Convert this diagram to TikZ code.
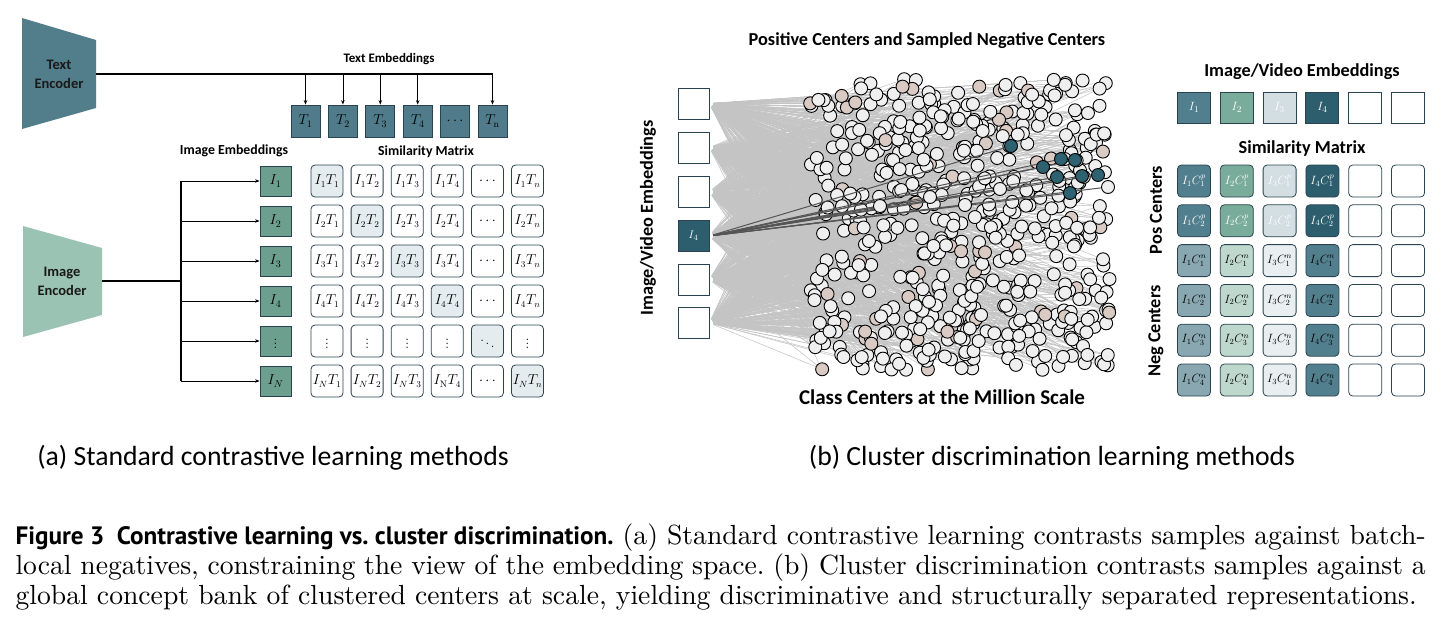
\documentclass[tikz,border=0pt]{standalone}
\usepackage{fontspec}
\usepackage{xcolor}
\usepackage{tikz}
\usetikzlibrary{arrows.meta, positioning, calc}

\newfontfamily\carlito{Carlito}
\newfontfamily\ptsans{PT Sans}

\definecolor{encteal}{HTML}{527E8C}
\definecolor{encgreen}{HTML}{9AC3B4}
\definecolor{tboxfill}{HTML}{4F7B8A}
\definecolor{iboxfill}{HTML}{6C9F8E}
\definecolor{edgeblue}{HTML}{2A4350}
\definecolor{diagfill}{HTML}{E4ECEF}
\definecolor{posA}{HTML}{527F8E}
\definecolor{posB}{HTML}{7AAC9B}
\definecolor{posC}{HTML}{D2DEE2}
\definecolor{posD}{HTML}{2D5E6D}
\definecolor{negA}{HTML}{88A7B1}
\definecolor{negB}{HTML}{BFD8CD}
\definecolor{negC}{HTML}{E9EFF1}
\definecolor{negD}{HTML}{527F8D}
\definecolor{ctrfill}{HTML}{EFEFEF}
\definecolor{ctrbeige}{HTML}{D9CAC3}
\definecolor{posdot}{HTML}{2E6271}
\definecolor{linegrey}{HTML}{C4C4C4}
\definecolor{linedark}{HTML}{555555}

\pgfdeclarelayer{wires}
\pgfdeclarelayer{hits}
\pgfsetlayers{wires,main,hits}

\begin{document}
\begin{tikzpicture}[
  x=1pt, y=-1pt,
  lbl/.style={font=\carlito\bfseries\fontsize{13.8}{16}\selectfont, inner sep=0pt},
  biglbl/.style={font=\carlito\bfseries\fontsize{18.3}{21}\selectfont, inner sep=0pt},
  enclbl/.style={font=\carlito\bfseries\fontsize{14.5}{19}\selectfont, align=center, text=black!90},
  subcap/.style={font=\carlito\fontsize{27.7}{32}\selectfont, inner sep=0pt},
  emb/.style={rectangle, draw=edgeblue, line width=0.8pt, minimum width=29pt,
              minimum height=32pt, inner sep=0pt, font=\fontsize{14}{16}\selectfont},
  midbox/.style={rectangle, draw=edgeblue, line width=0.9pt, fill=white,
                 minimum width=31pt, minimum height=31pt, inner sep=0pt},
  midhot/.style={midbox, fill=posD, text=white, font=\fontsize{11}{13}\selectfont},
  cell/.style={rectangle, rounded corners=4pt, draw=edgeblue, line width=0.8pt, fill=white,
               minimum width=32pt, minimum height=32pt, inner sep=0pt, font=\fontsize{13.5}{16}\selectfont},
  vbox/.style={rectangle, draw=edgeblue, line width=0.9pt, minimum width=33pt,
               minimum height=31pt, inner sep=0pt, text=white, font=\fontsize{13}{15}\selectfont},
  rcell/.style={cell, minimum width=33pt, font=\fontsize{12}{14}\selectfont},
  ctr/.style={circle, draw=black, line width=0.9pt, fill=ctrfill, minimum size=13pt, inner sep=0pt},
  gline/.style={draw=linegrey, line width=0.55pt, shorten <=4pt},
  dline/.style={draw=linedark, line width=1pt, shorten <=4pt},
  arr/.style={-{Stealth[length=4.5pt, width=3.5pt]}, line width=0.7pt},
  >=Stealth
]
\useasboundingbox (0,0) rectangle (1449,630);

% ── (a) text branch ──
\fill[encteal] (22,18) -- (96,40) -- (96,108) -- (22,129) -- cycle;
\node[enclbl] (txtenc) at (59,74) {Text\\Encoder};
\coordinate (txtout) at (96,74);

\node[lbl, font=\carlito\bfseries\fontsize{13}{15}\selectfont] (tlbl) at (389,59) {Text Embeddings};
\foreach \lab [count=\k] in {T_1,T_2,T_3,T_4,\cdots,T_{\mathrm{n}}}
  \node[emb, fill=tboxfill] (t\k) at ({305.5+37.4*(\k-1)},121) {$\lab$};

\draw[line width=1.6pt] (txtout) -- (t6.north |- txtout);
\foreach \k in {1,2,3,4,6}
  \draw[arr] (t\k.north |- txtout) -- (t\k.north);

% ── (a) image branch ──
\fill[encgreen] (23,226) -- (102,248) -- (102,315) -- (23,337) -- cycle;
\node[enclbl] (imgenc) at (62,281) {Image\\Encoder};
\coordinate (imgout) at (102,281);
\coordinate (bus) at (181,281);

\node[lbl] (ilbl) at (234,151) {Image Embeddings};
\foreach \lab [count=\k] in {I_1,I_2,I_3,I_4,\vdots,I_N}
  \node[emb, fill=iboxfill, minimum width=31pt, minimum height=30pt] (i\k) at (275.5,{181+40*(\k-1)}) {$\lab$};

\draw[line width=1.2pt] (imgout) -- (bus);
\draw[line width=1.2pt] (bus |- i1) -- (bus |- i6);
\foreach \k in {1,...,6}
  \draw[arr] (bus |- i\k) -- (i\k.west);

% ── (a) similarity matrix ──
\node[lbl] (slbl) at (426,152) {Similarity Matrix};
\foreach \cells [count=\rw] in {
    {I_1T_1,I_1T_2,I_1T_3,I_1T_4,\cdots,I_1T_n},
    {I_2T_1,I_2T_2,I_2T_3,I_2T_4,\cdots,I_2T_n},
    {I_3T_1,I_3T_2,I_3T_3,I_3T_4,\cdots,I_3T_n},
    {I_4T_1,I_4T_2,I_4T_3,I_4T_4,\cdots,I_4T_n},
    {\vdots,\vdots,\vdots,\vdots,\ddots,\vdots},
    {I_NT_1,I_NT_2,I_NT_3,I_{\mathrm{N}}T_4,\cdots,I_NT_n}}
  \foreach \lab [count=\cl] in \cells {
    \pgfmathsetmacro{\mix}{\rw==\cl ? 100 : 0}
    \node[cell, fill=diagfill!\mix!white] (s\rw\cl) at ({327+40.1*(\cl-1)},{181+40*(\rw-1)}) {$\lab$};
  }

% ── (b) embeddings and class centers ──
\node[biglbl] (toplbl) at (927,41) {Positive Centers and Sampled Negative Centers};
\node[biglbl, rotate=90] (emblbl) at (648,218) {Image/Video Embeddings};
\foreach \y/\sty [count=\k] in {103.5/midbox,147.5/midbox,192/midbox,236/midhot,279.5/midbox,323/midbox}
  \node[\sty] (e\k) at (693.5,\y) {\ifnum\k=4 $I_4$\fi};

\pgfmathsetseed{2024}
\foreach \k in {1,...,570}{
  \pgfmathsetmacro{\px}{810+300*rnd}
  \pgfmathsetmacro{\py}{78+292*rnd}
  \pgfmathsetmacro{\tint}{rnd<0.1 ? 100 : 0}
  \node[ctr, fill=ctrbeige!\tint!ctrfill] (c\k) at (\px,\py) {};
}

% every center is wired to three embeddings
\begin{pgfonlayer}{wires}
\foreach \k in {1,...,570}{
  \pgfmathtruncatemacro{\sa}{1+mod(\k,6)}
  \pgfmathtruncatemacro{\sb}{1+int(6*rnd)}
  \pgfmathtruncatemacro{\sc}{1+int(6*rnd)}
  \draw[gline] (e\sa.east) -- (c\k.center);
  \draw[gline] (e\sb.east) -- (c\k.center);
  \draw[gline] (e\sc.east) -- (c\k.center);
}
\end{pgfonlayer}

% positive centers of I4
\begin{pgfonlayer}{hits}
\foreach \x/\y [count=\k] in {1011/146,1043/167,1061/159,1075/160,1057/177,1082/176,1098/175,1070/193}
  \node[ctr, fill=posdot] (p\k) at (\x,\y) {};
\foreach \x/\y [count=\k] in {1108/187,965/205,930/197,1000/189,880/206}
  \node[ctr] (q\k) at (\x,\y) {};
\end{pgfonlayer}
\foreach \k in {1,...,8}
  \draw[dline] (e4.east) -- (p\k.center);
\foreach \k in {1,...,5}
  \draw[dline] (e4.east) -- (q\k.center);

\node[biglbl, font=\carlito\bfseries\fontsize{21}{24}\selectfont] (cclbl) at (942,397) {Class Centers at the Million Scale};

% ── (b) similarity matrix ──
\node[biglbl] (vlbl) at (1302,72) {Image/Video Embeddings};
\foreach \f/\lab [count=\k] in {posA/I_1,posB/I_2,posC/I_3,posD/I_4,white/{},white/{}}
  \node[vbox, fill=\f] (v\k) at ({1194+42.8*(\k-1)},107.5) {$\lab$};

\node[biglbl] (rslbl) at (1302,149) {Similarity Matrix};
\foreach \rw in {1,2}
  \foreach \f [count=\cl] in {posA,posB,posC,posD}
    \node[rcell, fill=\f, text=white] (m\rw\cl) at ({1194+42.8*(\cl-1)},{181+39.8*(\rw-1)}) {$I_{\cl}C_{\rw}^{p}$};
\foreach \rw in {3,...,6}{
  \pgfmathtruncatemacro{\j}{\rw-2}
  \foreach \f [count=\cl] in {negA,negB,negC,negD}
    \node[rcell, fill=\f] (m\rw\cl) at ({1194+42.8*(\cl-1)},{181+39.8*(\rw-1)}) {$I_{\cl}C_{\j}^{n}$};
}
\foreach \rw in {1,...,6}
  \foreach \cl in {5,6}
    \node[rcell] (m\rw\cl) at ({1194+42.8*(\cl-1)},{181+39.8*(\rw-1)}) {};

\node[biglbl, rotate=90] (poslbl) at (1156,210) {Pos Centers};
\node[biglbl, rotate=90] (neglbl) at (1156,331) {Neg Centers};

% ── captions ──
\node[subcap] (capa) at (273,458) {(a) Standard contrastive learning methods};
\node[subcap] (capb) at (1052,458) {(b) Cluster discrimination learning methods};

\node[anchor=base west, inner sep=0pt, scale=2.765] (figcap) at (15,544) {\parbox[t]{510pt}{\fontsize{10}{11}\selectfont\frenchspacing
  {\ptsans\bfseries\fontsize{9.1}{11}\selectfont Figure 3\enspace Contrastive learning vs.\ cluster discrimination.}\ (a) Standard contrastive learning contrasts samples against batch-\linebreak
  local negatives, constraining the view of the embedding space. (b) Cluster discrimination contrasts samples against a\linebreak
  global concept bank of clustered centers at scale, yielding discriminative and structurally separated representations.}};
\end{tikzpicture}
\end{document}
